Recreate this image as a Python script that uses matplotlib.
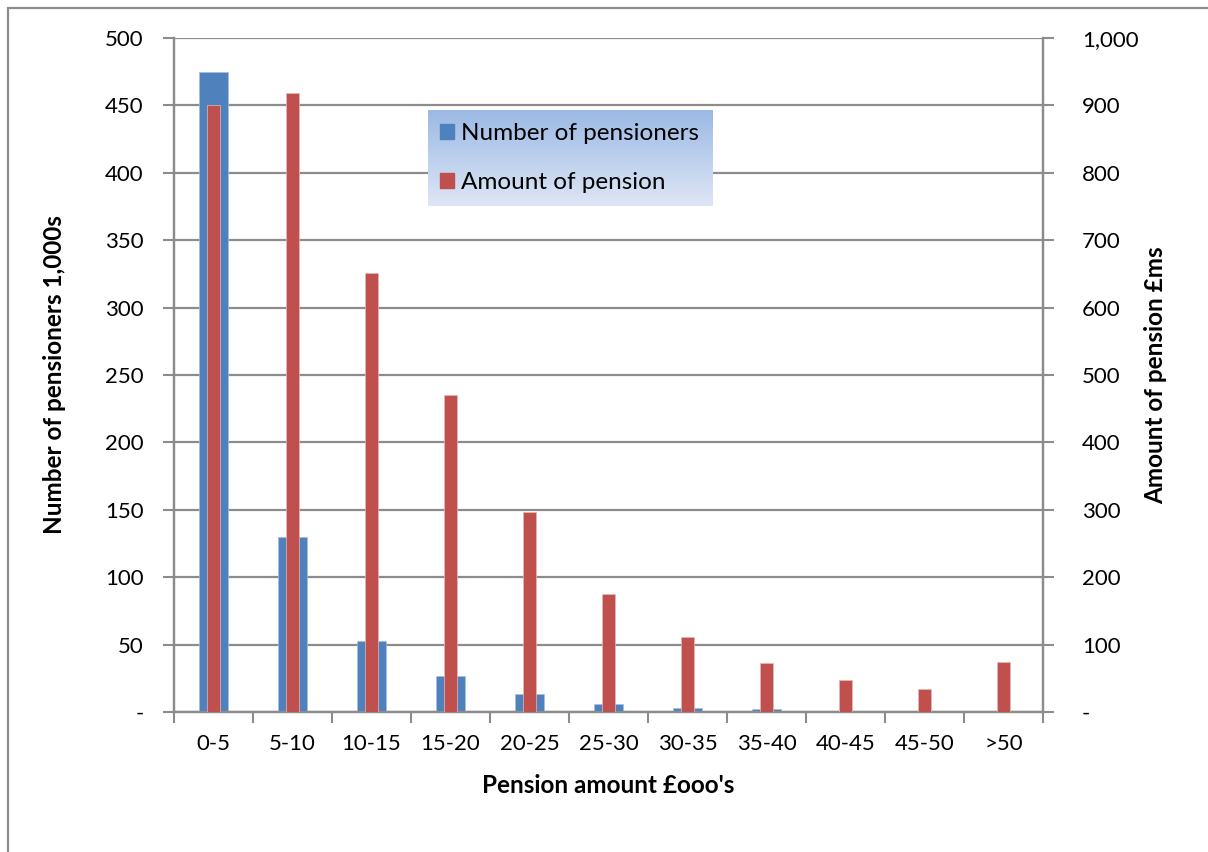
import numpy as np
import matplotlib
matplotlib.use("Agg")
import matplotlib.pyplot as plt
from matplotlib.patches import Rectangle, Patch
from matplotlib.ticker import FuncFormatter, FixedLocator

plt.rcParams['font.family'] = ['Lato', 'DejaVu Sans']

bands = ['0-5', '5-10', '10-15', '15-20', '20-25', '25-30', '30-35',
         '35-40', '40-45', '45-50', '>50']
pensioners = [475, 130, 53, 27, 13, 6, 3, 2, 1, 0.5, 1]          # 1,000s
amount = [900, 918, 652, 470, 297, 175, 112, 72, 47, 34, 74]      # £ms

blue = '#4F81BD'
red = '#C0504D'
grid_grey = '#8C8C8C'

fig = plt.figure(figsize=(12.08, 8.52), dpi=100)
ax = fig.add_axes([0.1440, 0.1643, 0.7194, 0.7911])
ax2 = ax.twinx()

x = np.arange(len(bands))
ax.bar(x, pensioners, width=0.37, color=blue, edgecolor='#A7BFDE',
       linewidth=0.5, zorder=3)
ax2.bar(x, amount, width=0.165, color=red, edgecolor='#E6B9B8',
        linewidth=0.5, zorder=3)

ax.set_xlim(-0.5, len(bands) - 0.5)
ax.set_ylim(0, 500)
ax2.set_ylim(0, 1000)
ax.set_yticks(np.arange(0, 501, 50))
ax2.set_yticks(np.arange(0, 1001, 100))

ax.yaxis.grid(True, color=grid_grey, linewidth=1.6, zorder=0)
ax.set_axisbelow(True)

def dash_zero(v, pos):
    return '-' if v == 0 else f'{int(v):,}'

ax.yaxis.set_major_formatter(FuncFormatter(dash_zero))
ax2.yaxis.set_major_formatter(FuncFormatter(dash_zero))

# category labels centred, tick marks on the band boundaries
ax.set_xticks(x)
ax.set_xticklabels(bands)
ax.tick_params(axis='x', which='major', length=0, pad=16, labelsize=16)
ax.xaxis.set_minor_locator(FixedLocator(np.arange(-0.5, len(bands), 1)))
ax.tick_params(axis='x', which='minor', length=8, width=1.5, color=grid_grey)

ax.tick_params(axis='y', length=8, width=1.5, color=grid_grey, labelsize=16, pad=14)
ax2.tick_params(axis='y', length=8, width=1.5, color=grid_grey, labelsize=16, pad=20)

for a in (ax, ax2):
    a.spines['top'].set_visible(False)
    for s in ('left', 'right', 'bottom'):
        a.spines[s].set_color(grid_grey)
        a.spines[s].set_linewidth(1.6)

ax.set_ylabel('Number of pensioners 1,000s', fontsize=17.5, fontweight='bold', labelpad=28)
ax2.set_ylabel('Amount of pension £ms', fontsize=17.5, fontweight='bold', labelpad=4)
ax.set_xlabel("Pension amount £ooo's", fontsize=17.5, fontweight='bold', labelpad=14)

# legend box with a blue gradient fill
lax = fig.add_axes([0.3543, 0.7582, 0.2351, 0.1127], zorder=5)
grad = np.linspace(0, 1, 100)[:, None]
top = np.array([155, 185, 228]) / 255
bottom = np.array([222, 230, 246]) / 255
img = top + (bottom - top) * grad[..., None]
lax.imshow(np.repeat(img, 2, axis=1), aspect='auto', extent=[0, 1, 0, 1])
lax.set_axis_off()
handles = [Patch(color=blue), Patch(color=red)]
lax.legend(handles, ['Number of pensioners', 'Amount of pension'],
           loc='center left', bbox_to_anchor=(0.0, 0.5), frameon=False,
           fontsize=17.5, handlelength=0.55, handleheight=0.55,
           handletextpad=0.3, labelspacing=1.15, borderaxespad=0.1)

# outer chart frame
fig.patches.append(Rectangle((8 / 1208, -0.1), 1.2, 1.1 - 8 / 852,
                             transform=fig.transFigure, fill=False,
                             edgecolor='#8C8C8C', linewidth=1.6, clip_on=False))

fig.savefig('out.png', dpi=100)
